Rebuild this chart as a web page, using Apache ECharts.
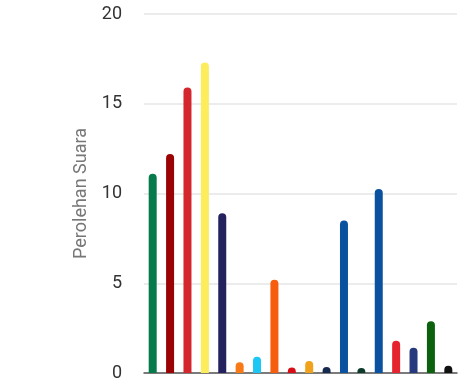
<!DOCTYPE html>
<html><head><meta charset="utf-8">
<style>html,body{margin:0;padding:0;background:#fff}#c{width:474px;height:387px}</style>
<script src="https://cdn.jsdelivr.net/npm/echarts@6/dist/echarts.min.js"></script>
</head><body><div id="c"></div>
<script>
var categories = ["P1","P2","P3","P4","P5","P6","P7","P8","P9","P10","P11","P12","P13","P14","P15","P16","P17","P18"];
var values = [11.1, 12.2, 15.9, 17.3, 8.9, 0.6, 0.9, 5.2, 0.3, 0.67, 0.33, 8.5, 0.28, 10.25, 1.8, 1.4, 2.88, 0.4];
var colors = ["#077a4c","#9a0204","#d4262d","#fdec5c","#23215e","#f77a17","#1cc6f5","#f65d0c","#d90d16","#f1a21c","#162a4f","#0a51a0","#0d3b29","#0a51a0","#e5242f","#27397d","#0b610e","#111111"];
var yTicks = [0,5,10,15,20];
var chart = echarts.init(document.getElementById('c'));
chart.setOption({
  animation:false,
  grid:{left:144,right:17,top:14,bottom:14,containLabel:false},
  xAxis:{type:'category',data:categories,axisTick:{show:false},axisLabel:{show:false},
    axisLine:{lineStyle:{color:'#555',width:1.5}}},
  yAxis:{type:'value',min:yTicks[0],max:yTicks[yTicks.length-1],interval:5,
    name:'Perolehan Suara',nameLocation:'middle',nameGap:51,
    nameTextStyle:{color:'#777',fontSize:18,fontFamily:'Roboto'},
    axisLabel:{color:'#333',fontSize:18,fontFamily:'Roboto',margin:22},
    splitLine:{lineStyle:{color:'#e6e6e6',width:1.5}},
    axisLine:{show:false},axisTick:{show:false}},
  series:[{type:'bar',barWidth:8,
    data:values.map(function(v,i){return {value:v,itemStyle:{color:colors[i],borderRadius:[4,4,0,0]}};})}]
});
</script></body></html>
